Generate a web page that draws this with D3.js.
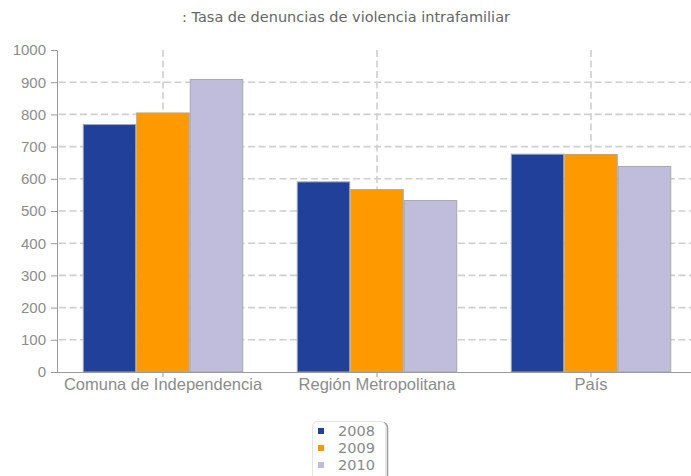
<!DOCTYPE html>
<html lang="es">
<head>
<meta charset="UTF-8">
<title>Tasa de denuncias de violencia intrafamiliar</title>
<script src="https://d3js.org/d3.v7.min.js"></script>
<style>
  body { margin: 0; background: #fff; }
  svg { display: block; font-family: "DejaVu Sans", Verdana, sans-serif; }
  .axis path, .axis line { stroke: #9a9a9a; }
  .axis text { fill: #8c8c8c; }
  .grid line { stroke: #cfcfcf; stroke-width: 1.6; stroke-dasharray: 7 3.5; }
</style>
</head>
<body>
<div id="chart"></div>
<script>
var categories = ["Comuna de Independencia", "Región Metropolitana", "País"];
var years = ["2008", "2009", "2010"];
var values2008 = [770, 592, 678];
var values2009 = [806, 568, 677];
var values2010 = [910, 534, 640];
var yTicks = [0, 100, 200, 300, 400, 500, 600, 700, 800, 900, 1000];
var colors = ["#21409a", "#ff9900", "#c0bcdc"];

var w = 691, h = 476;
var plotLeft = 57, plotRight = 699, plotTop = 50, plotBottom = 372;

var series = [values2008, values2009, values2010];

var svg = d3.select("#chart").append("svg")
    .attr("width", w)
    .attr("height", h);

var x0 = d3.scaleBand().domain(categories).range([plotLeft - 1, plotRight - 1])
    .paddingInner(0.25).paddingOuter(0.125);
var x1 = d3.scaleBand().domain(years).range([0, x0.bandwidth()]);
var y = d3.scaleLinear().domain([0, 1000]).range([plotBottom, plotTop]);

// title
svg.append("text")
    .attr("x", 346)
    .attr("y", 22)
    .attr("text-anchor", "middle")
    .style("font-size", "14.5px")
    .style("fill", "#666")
    .text(": Tasa de denuncias de violencia intrafamiliar");

// horizontal grid
svg.append("g").attr("class", "grid")
    .selectAll("line")
    .data(yTicks.filter(function(d) { return d > 0 && d < 1000; }))
    .enter().append("line")
    .attr("x1", plotLeft + 2)
    .attr("x2", w)
    .attr("y1", function(d) { return y(d); })
    .attr("y2", function(d) { return y(d); });

// vertical grid at category centres
svg.append("g").attr("class", "grid")
    .selectAll("line")
    .data(categories)
    .enter().append("line")
    .attr("x1", function(d) { return x0(d) + x0.bandwidth() / 2; })
    .attr("x2", function(d) { return x0(d) + x0.bandwidth() / 2; })
    .attr("y1", plotTop)
    .attr("y2", plotBottom);

// bars
var groups = svg.append("g").selectAll("g")
    .data(categories)
    .enter().append("g")
    .attr("transform", function(d) { return "translate(" + x0(d) + ",0)"; });

groups.selectAll("rect")
    .data(function(d, i) {
        return years.map(function(yr, j) { return { year: yr, value: series[j][i], idx: j }; });
    })
    .enter().append("rect")
    .attr("x", function(d) { return x1(d.year) + 0.5; })
    .attr("y", function(d) { return y(d.value) + 0.5; })
    .attr("width", x1.bandwidth() - 1)
    .attr("height", function(d) { return plotBottom - y(d.value) - 0.5; })
    .attr("fill", function(d) { return colors[d.idx]; })
    .attr("stroke", "#a8a8a8")
    .attr("stroke-width", 1);

// y axis
var yAxis = svg.append("g").attr("class", "axis")
    .attr("transform", "translate(" + plotLeft + ",0)")
    .call(d3.axisLeft(y).tickValues(yTicks).tickFormat(d3.format("d"))
        .tickSizeInner(6).tickSizeOuter(0).tickPadding(5));
yAxis.selectAll("text").style("font-size", "15px");

// x axis
svg.append("line")
    .attr("x1", plotLeft).attr("x2", w)
    .attr("y1", plotBottom + 0.5).attr("y2", plotBottom + 0.5)
    .attr("stroke", "#9a9a9a");
var xAxis = svg.append("g").attr("class", "axis")
    .attr("transform", "translate(0," + plotBottom + ")")
    .call(d3.axisBottom(x0).tickSize(5).tickPadding(1));
xAxis.select(".domain").remove();
xAxis.selectAll("text").style("font-size", "16.5px");

// legend
var legend = svg.append("g").attr("transform", "translate(312,421)");
legend.append("rect")
    .attr("x", 1.5).attr("y", 1.5)
    .attr("width", 74).attr("height", 60)
    .attr("rx", 5)
    .attr("fill", "none")
    .attr("stroke", "#9c9c9c")
    .attr("stroke-width", 1.5);
legend.append("rect")
    .attr("x", 0.5).attr("y", 0.5)
    .attr("width", 73).attr("height", 60)
    .attr("rx", 5)
    .attr("fill", "#fff")
    .attr("stroke", "#e4e4e4");
var items = legend.selectAll("g.item")
    .data(years)
    .enter().append("g")
    .attr("class", "item")
    .attr("transform", function(d, i) { return "translate(0," + (10 + i * 17) + ")"; });
items.append("rect")
    .attr("x", 6).attr("y", -3)
    .attr("width", 6).attr("height", 6)
    .attr("fill", function(d, i) { return colors[i]; });
items.append("text")
    .attr("x", 26)
    .attr("dy", "0.36em")
    .style("font-size", "14.5px")
    .style("fill", "#8a8a8a")
    .text(function(d) { return d; });
</script>
</body>
</html>
